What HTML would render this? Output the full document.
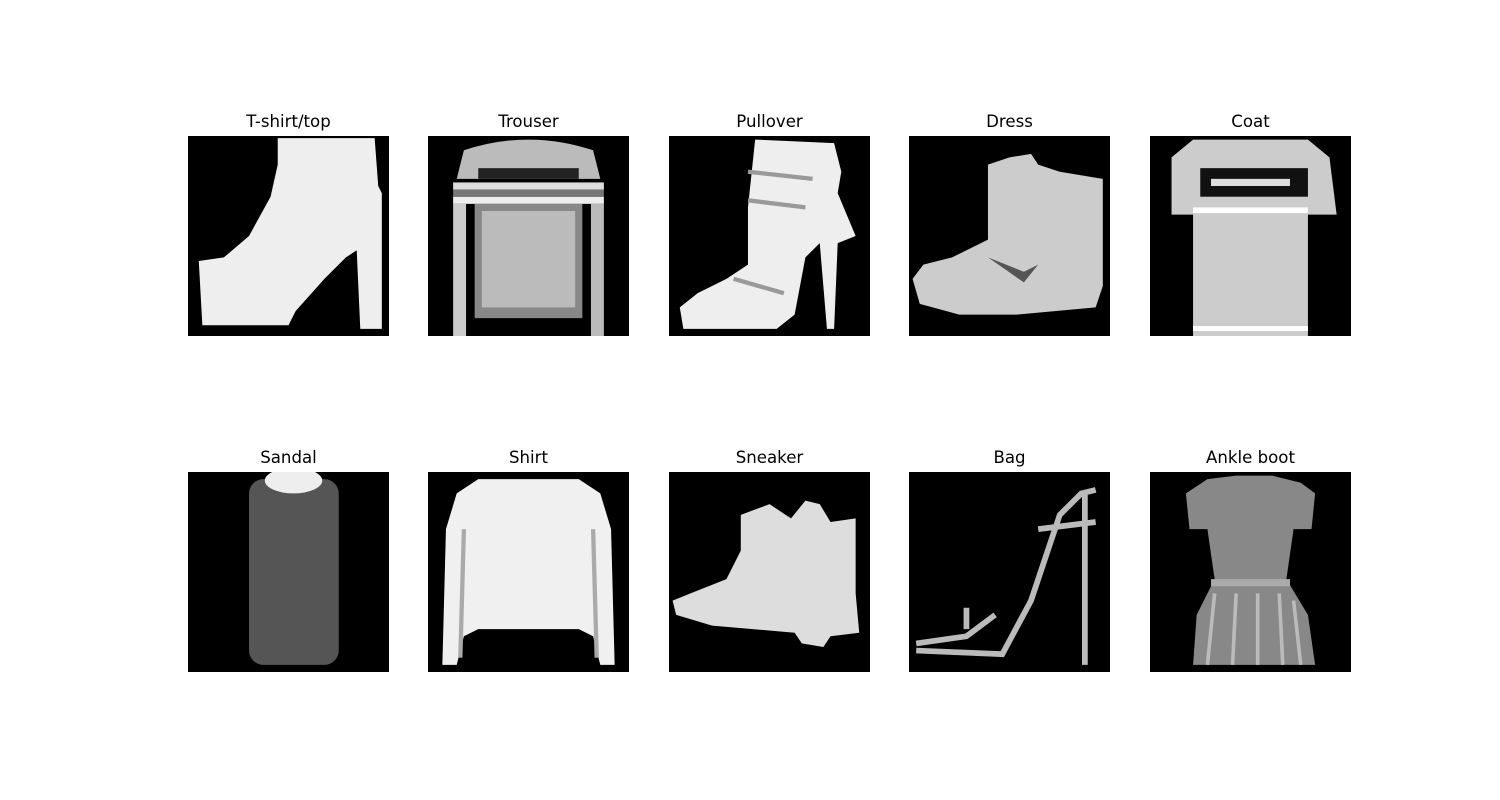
<!DOCTYPE html>
<html><head><meta charset="utf-8"><style>
html,body{margin:0;padding:0;background:#fff;width:1500px;height:800px;overflow:hidden}
text{font-family:"DejaVu Sans","Liberation Sans",sans-serif;font-size:16.6px;fill:#000}
</style></head><body>
<svg id="fig" width="1500" height="800" xmlns="http://www.w3.org/2000/svg">
<rect width="1500" height="800" fill="#fff"/>
</svg>
<script>
const titles = ["T-shirt/top","Trouser","Pullover","Dress","Coat","Sandal","Shirt","Sneaker","Bag","Ankle boot"];
const colX = [188,428,669,909,1150];
const rowY = [136,472];
const shapes = [
`<polygon fill="#eee" points="12.5,0.3 26,0.3 26.5,7 27,8 27,27 24,27 23.5,16 22,17 19,20 15,24.5 14,26.5 2,26.5 1.5,17.5 5,17 8.5,14 11.5,8.5 12.5,4"/>`,
`<path fill="#bbb" d="M5,2 Q14,-1 23,2 L24,6 L4,6 Z"/><rect x="7" y="4.5" width="14" height="1.5" fill="#222"/><rect x="3.5" y="6.5" width="21" height="1" fill="#ddd"/><rect x="3.5" y="8.5" width="21" height="1" fill="#eee"/><rect x="3.5" y="7.5" width="21" height="1" fill="#777"/><rect x="3.5" y="9.5" width="1.8" height="18.5" fill="#ccc"/><rect x="22.7" y="9.5" width="1.8" height="18.5" fill="#bbb"/><rect x="6.5" y="9.5" width="15" height="16" fill="#888"/><rect x="7.5" y="10.5" width="13" height="13.5" fill="#bbb"/>`,
`<polygon fill="#eee" points="12,0.5 23,1 24,5 23.5,8 26,14 23.5,15 23,27 22,27 21,15 19,17 17.5,25 15,27 2,27 1.5,24 4,22 8,20 11,18 11,10"/><path d="M11,5 L20,6 M11,9 L19,10 M9,20 L16,22" stroke="#999" stroke-width="0.6" fill="none"/>`,
`<polygon fill="#ccc" points="11,4 14,3 17,2.5 18,4 21,5 27,6 27,21 26,24 15,25 7,25 1.5,23.5 0.5,20 2,18 6,17 11,14.5"/><path fill="#555" d="M11,17 L16,19 L18,18 L16,20.5 Z"/>`,
`<polygon fill="#ccc" points="6,0.5 22,0.5 25,3 26,11 22,11 22,28 6,28 6,11 3,11 3,3"/><rect x="7" y="4.5" width="15" height="4" fill="#111"/><rect x="8.5" y="6" width="11" height="1" fill="#ddd"/><rect x="6" y="10" width="16" height="0.8" fill="#fff"/><rect x="6" y="26.6" width="16" height="0.7" fill="#fff"/>`,
`<rect x="8.5" y="1" width="12.5" height="26" rx="2" fill="#555"/><ellipse cx="14.7" cy="1.2" rx="4" ry="1.8" fill="#eee"/>`,
`<polygon fill="#f0f0f0" points="7,1 21,1 24,3 25.5,8 26,27 24,27 23,23 21,22 7,22 5,23 4,27 2,27 2.5,8 4,3"/><path d="M5,8 L4.5,26 M23,8 L23.5,26" stroke="#aaa" stroke-width="0.6"/>`,
`<polygon fill="#ddd" points="10,6 14,4.5 17,6.5 19,4 21,4.5 22.5,7 26,6.5 26,17 26.5,22.5 22.5,23 21.5,24.5 18.5,24 17.5,22.5 6,21.5 1,20 0.5,18 3,17 8,15 10,11"/>`,
`<path d="M1,25 L13,25.5 L17,18 L19,12 L21,6 L24,3 L26,2.5 M24.5,3 L24.5,27 M18,8 L26,7 M1,24 L8,23 L12,20 M8,22 L8,19" stroke="#bbb" stroke-width="0.8" fill="none"/>`,
`<polygon fill="#888" points="8,1 12,0.5 17,0.5 21,1.5 23,3 22.5,8 20,8 19,15 22,20 23,27 6,27 6.5,20 9,15 8,8 5.5,8 5,3"/><rect x="8.5" y="15" width="11" height="1" fill="#aaa"/><path d="M9,17 L8,27 M12,17 L11.5,27 M15,17 L15,27 M18,17 L18.5,27 M20,18 L21,27" stroke="#bbb" stroke-width="0.5"/>`
];
const svg = document.getElementById('fig');
const NS = "http://www.w3.org/2000/svg";
titles.forEach((t,i)=>{
  const x = colX[i%5], y = rowY[Math.floor(i/5)];
  const g = document.createElementNS(NS,'g');
  
  
  const s = document.createElementNS(NS,'svg');
  s.setAttribute('x',x); s.setAttribute('y',y); s.setAttribute('width',201); s.setAttribute('height',200);
  s.setAttribute('viewBox','0 0 28 28'); s.setAttribute('preserveAspectRatio','none');
  
  
  s.innerHTML = '<rect width="28" height="28" fill="#000"/>' + shapes[i];
  g.appendChild(s);
  const tx = document.createElementNS(NS,'text');
  tx.setAttribute('x', x+100.5); tx.setAttribute('y', y-9); tx.setAttribute('text-anchor','middle');
  
  
  tx.textContent = t;
  g.appendChild(tx);
  svg.appendChild(g);
});
</script>
</body></html>
